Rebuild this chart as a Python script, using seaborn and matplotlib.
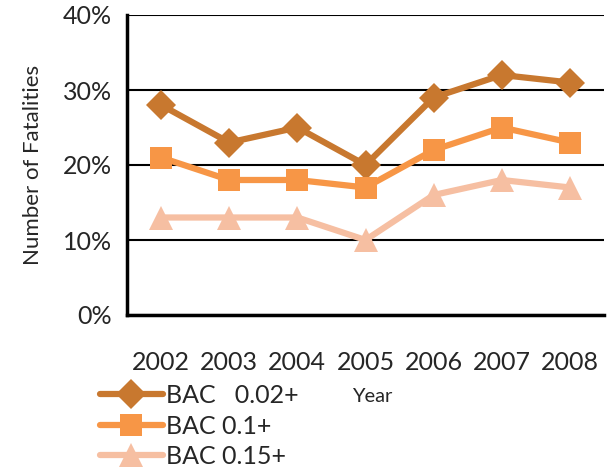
import matplotlib
matplotlib.use("Agg")
import matplotlib.pyplot as plt
import seaborn as sns
import pandas as pd
from matplotlib.ticker import FixedLocator, PercentFormatter
from matplotlib.lines import Line2D

years = ["2002", "2003", "2004", "2005", "2006", "2007", "2008"]
bac_002 = [28, 23, 25, 20, 29, 32, 31]
bac_01 = [21, 18, 18, 17, 22, 25, 23]
bac_015 = [13, 13, 13, 10, 16, 18, 17]
series_names = ["BAC   0.02+", "BAC 0.1+", "BAC 0.15+"]
colors = ["#C8782F", "#F79646", "#F6BFA2"]
markers = ["D", "s", "^"]
msizes = [15, 16, 17]

rows = []
for name, vals in zip(series_names, [bac_002, bac_01, bac_015]):
    for i, v in enumerate(vals):
        rows.append({"idx": i, "value": v, "series": name})
df = pd.DataFrame(rows)

sns.set_style("white")
plt.rcParams["font.family"] = ["Lato", "DejaVu Sans"]

fig = plt.figure(figsize=(6.16, 4.70), dpi=100)
ax = fig.add_axes([127/616, 1-315/470, (604-127)/616, 300/470])

for name, c, m, ms in zip(series_names, colors, markers, msizes):
    sns.lineplot(data=df[df["series"] == name], x="idx", y="value",
                 color=c, marker=m, linewidth=4.5, markersize=ms,
                 markeredgewidth=0, ax=ax, legend=False)

ax.set_xlim(-0.5, 6.5)
ax.set_ylim(0, 40)
ax.yaxis.set_major_locator(FixedLocator([0, 10, 20, 30, 40]))
ax.yaxis.set_major_formatter(PercentFormatter(decimals=0))
ax.grid(axis="y", color="black", linewidth=1.5)
ax.set_axisbelow(True)

ax.set_xticks([i - 0.5 for i in range(8)])
ax.set_xticklabels([])
ax.set_xticks(range(7), minor=True)
ax.set_xticklabels(years, minor=True)
ax.tick_params(axis="x", which="major", direction="out", length=8, width=2.5, color="black")
ax.tick_params(axis="x", which="minor", length=0, pad=26, labelsize=18)
ax.tick_params(axis="y", direction="out", length=7, width=2.5, color="black", labelsize=18, pad=4)

for s in ["top", "right"]:
    ax.spines[s].set_visible(False)
for s in ["left", "bottom"]:
    ax.spines[s].set_color("black")
    ax.spines[s].set_linewidth(2.5)

ax.set_xlabel("")
ax.set_ylabel("Number of Fatalities", fontsize=16, labelpad=14)
fig.text(372/616, 1-397/470, "Year", fontsize=14.5, ha="center", va="center")

handles = [Line2D([0], [0], color=c, marker=m, linewidth=4.5, markersize=ms,
                  markeredgewidth=0) for c, m, ms in zip(colors, markers, msizes)]
fig.legend(handles, series_names, loc="upper left",
           bbox_to_anchor=(100/616, 1-384/470), frameon=False, fontsize=18,
           handlelength=2.5, handletextpad=0.15, labelspacing=0.3,
           borderpad=0, borderaxespad=0)

fig.savefig("out.png", dpi=100)
